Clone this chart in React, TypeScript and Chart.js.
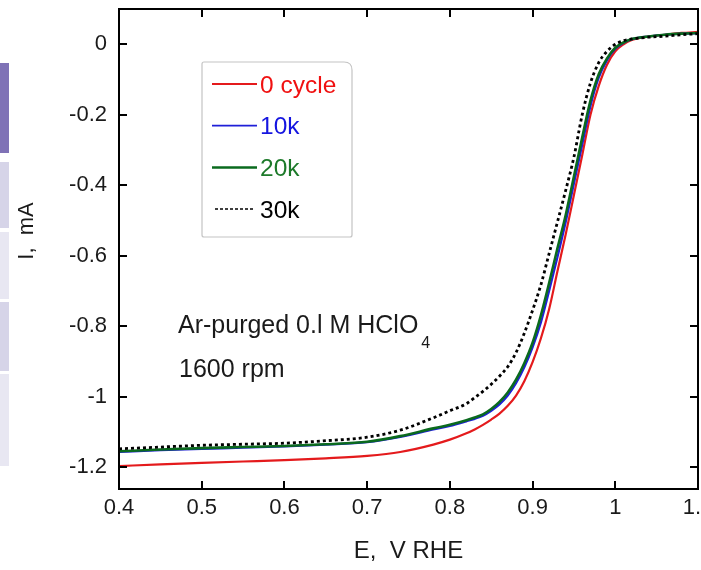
import { useEffect, useRef } from "react";
import { Chart, registerables } from "chart.js";

Chart.register(...registerables);

// ---- data ----
const E_V = [
  0.4, 0.45, 0.5, 0.55, 0.6, 0.65, 0.7, 0.74, 0.78, 0.8, 0.82, 0.83, 0.84, 0.85,
  0.86, 0.87, 0.88, 0.89, 0.9, 0.91, 0.92, 0.93, 0.94, 0.95, 0.96, 0.97, 0.98,
  0.99, 1.0, 1.01, 1.02, 1.04, 1.06, 1.08, 1.1,
];
const I_0CYCLE = [
  -1.197, -1.192, -1.188, -1.184, -1.18, -1.175, -1.168, -1.157, -1.136, -1.122,
  -1.104, -1.093, -1.08, -1.065, -1.048, -1.026, -0.997, -0.956, -0.902, -0.835,
  -0.752, -0.645, -0.54, -0.428, -0.315, -0.2, -0.118, -0.058, -0.02, 0.0, 0.012,
  0.022, 0.027, 0.032, 0.035,
];
const I_10K = [
  -1.157, -1.152, -1.148, -1.145, -1.141, -1.136, -1.129, -1.114, -1.093, -1.083,
  -1.07, -1.063, -1.054, -1.04, -1.022, -0.997, -0.962, -0.917, -0.86, -0.79,
  -0.7, -0.605, -0.505, -0.395, -0.285, -0.175, -0.095, -0.045, -0.013, 0.004,
  0.014, 0.022, 0.027, 0.03, 0.031,
];
const I_20K = [
  -1.155, -1.15, -1.146, -1.143, -1.14, -1.135, -1.128, -1.112, -1.09, -1.08,
  -1.067, -1.059, -1.05, -1.035, -1.015, -0.988, -0.952, -0.905, -0.847, -0.77,
  -0.678, -0.58, -0.485, -0.375, -0.265, -0.16, -0.085, -0.04, -0.01, 0.005,
  0.015, 0.022, 0.027, 0.03, 0.032,
];
const I_30K = [
  -1.148, -1.143, -1.138, -1.135, -1.132, -1.125, -1.115, -1.095, -1.06, -1.04,
  -1.02, -1.003, -0.985, -0.965, -0.942, -0.915, -0.875, -0.82, -0.755, -0.683,
  -0.594, -0.505, -0.415, -0.32, -0.2, -0.11, -0.052, -0.02, 0.0, 0.01, 0.015,
  0.02, 0.023, 0.027, 0.03,
];
const SERIES_NAMES = ["0 cycle", "10k", "20k", "30k"];
const SERIES_COLORS = ["#e41a1c", "#1f1fd8", "#0a6a1e", "#000000"];
const LEGEND_TEXT_COLORS = ["#f01010", "#1515e0", "#1d7a2a", "#000000"];
const DRAW_ORDER = [3, 2, 1, 0]; // higher = drawn first (underneath)

const X_TICKS = [0.4, 0.5, 0.6, 0.7, 0.8, 0.9, 1.0, 1.1];
const X_TICK_LABELS = ["0.4", "0.5", "0.6", "0.7", "0.8", "0.9", "1", "1.1"];
const Y_TICKS = [0, -0.2, -0.4, -0.6, -0.8, -1.0, -1.2];
const Y_TICK_LABELS = ["0", "-0.2", "-0.4", "-0.6", "-0.8", "-1", "-1.2"];
const X_MIN = 0.4;
const X_MAX = 1.1;
const Y_MIN = -1.262;
const Y_MAX = 0.1;

const X_TITLE = "E,  V RHE";
const Y_TITLE = "I,  mA";
const NOTE_LINE_1 = "Ar-purged 0.l M HClO";
const NOTE_SUB = "4";
const NOTE_LINE_2 = "1600 rpm";

const FONT = "'Liberation Sans', Arial, sans-serif";

const decorPlugin = {
  id: "decor",
  afterDatasetsDraw(chart: any) {
    const ctx = chart.ctx;
    const { left, right, top, bottom } = chart.chartArea;
    const xs = chart.scales.x;
    const ys = chart.scales.y;
    ctx.save();
    // frame
    ctx.strokeStyle = "#000";
    ctx.lineWidth = 2;
    ctx.strokeRect(left, top, right - left, bottom - top);
    // inward ticks on all four sides
    const tl = 8;
    ctx.beginPath();
    X_TICKS.forEach((v) => {
      const px = Math.round(xs.getPixelForValue(v));
      ctx.moveTo(px, bottom);
      ctx.lineTo(px, bottom - tl);
      ctx.moveTo(px, top);
      ctx.lineTo(px, top + tl);
    });
    Y_TICKS.forEach((v) => {
      const py = Math.round(ys.getPixelForValue(v));
      ctx.moveTo(left, py);
      ctx.lineTo(left + tl, py);
      ctx.moveTo(right, py);
      ctx.lineTo(right - tl, py);
    });
    ctx.stroke();

    // axis titles
    ctx.fillStyle = "#1a1a1a";
    ctx.font = `24px ${FONT}`;
    ctx.textAlign = "center";
    ctx.textBaseline = "middle";
    ctx.fillText(X_TITLE, (left + right) / 2, 551);
    ctx.save();
    ctx.translate(27, 231);
    ctx.rotate(-Math.PI / 2);
    ctx.font = `22px ${FONT}`;
    ctx.fillText(Y_TITLE, 0, 0);
    ctx.restore();

    // legend box
    const bx = 202, by = 62, bw = 150, bh = 175, r = 8;
    ctx.beginPath();
    ctx.moveTo(bx + 2, by);
    ctx.lineTo(bx + bw - r, by);
    ctx.quadraticCurveTo(bx + bw, by, bx + bw, by + r);
    ctx.lineTo(bx + bw, by + bh - 2);
    ctx.quadraticCurveTo(bx + bw, by + bh, bx + bw - 2, by + bh);
    ctx.lineTo(bx + 2, by + bh);
    ctx.quadraticCurveTo(bx, by + bh, bx, by + bh - 2);
    ctx.lineTo(bx, by + 2);
    ctx.quadraticCurveTo(bx, by, bx + 2, by);
    ctx.closePath();
    ctx.fillStyle = "#ffffff";
    ctx.fill();
    ctx.strokeStyle = "#c4c4c4";
    ctx.lineWidth = 1.2;
    ctx.stroke();

    ctx.font = `24.5px ${FONT}`;
    ctx.textAlign = "left";
    ctx.textBaseline = "middle";
    SERIES_NAMES.forEach((name, i) => {
      const y = 84 + i * 41.7;
      ctx.beginPath();
      ctx.strokeStyle = SERIES_COLORS[i];
      if (i === 3) {
        ctx.setLineDash([3, 2]);
        ctx.lineWidth = 1.5;
        ctx.moveTo(215, y);
        ctx.lineTo(253, y);
      } else {
        ctx.setLineDash([]);
        ctx.lineWidth = i === 2 ? 2.5 : 1.8;
        ctx.moveTo(212, y);
        ctx.lineTo(257, y);
      }
      ctx.stroke();
      ctx.setLineDash([]);
      ctx.fillStyle = LEGEND_TEXT_COLORS[i];
      ctx.fillText(name, 260, y + 2);
    });

    // annotation
    ctx.fillStyle = "#1a1a1a";
    ctx.font = `25px ${FONT}`;
    ctx.fillText(NOTE_LINE_1, 178, 326);
    const w = ctx.measureText(NOTE_LINE_1).width;
    ctx.font = `16px ${FONT}`;
    ctx.fillText(NOTE_SUB, 178 + w + 3, 344);
    ctx.font = `25px ${FONT}`;
    ctx.fillText(NOTE_LINE_2, 179, 370);
    ctx.restore();
  },
};

const DECOR_BOXES = [
  { top: 63, height: 90, color: "#7f72b6" },
  { top: 162, height: 66, color: "#d6d4e8" },
  { top: 232, height: 67, color: "#e8e7f2" },
  { top: 302, height: 69, color: "#d6d4e8" },
  { top: 374, height: 92, color: "#e8e7f2" },
];

export default function App() {
  const ref = useRef<HTMLCanvasElement | null>(null);

  useEffect(() => {
    if (!ref.current) return;
    const mk = (data: number[], i: number) => ({
      label: SERIES_NAMES[i],
      data: E_V.map((x, k) => ({ x, y: data[k] })),
      borderColor: SERIES_COLORS[i],
      backgroundColor: SERIES_COLORS[i],
      borderWidth: i === 3 ? 2.8 : i === 2 ? 2.6 : 2.2,
      borderDash: i === 3 ? [3, 3] : [],
      pointRadius: 0,
      order: DRAW_ORDER[i],
      cubicInterpolationMode: "monotone" as const,
      fill: false,
    });
    const chart = new Chart(ref.current, {
      type: "line",
      data: {
        datasets: [
          mk(I_0CYCLE, 0),
          mk(I_10K, 1),
          mk(I_20K, 2),
          mk(I_30K, 3),
        ],
      },
      options: {
        responsive: false,
        animation: false,
        layout: { padding: { top: 9, right: 22, left: 0, bottom: 0 } },
        plugins: { legend: { display: false }, tooltip: { enabled: false } },
        scales: {
          x: {
            type: "linear",
            min: X_MIN,
            max: X_MAX,
            grid: { display: false, drawTicks: false },
            border: { display: false },
            afterBuildTicks: (s: any) => {
              s.ticks = X_TICKS.map((v) => ({ value: v }));
            },
            afterFit: (s: any) => {
              s.height = 81;
              s.paddingLeft = 0;
              s.paddingRight = 0;
              s.paddingTop = 0;
              s.paddingBottom = 0;
            },
            ticks: {
              padding: 6,
              maxRotation: 0,
              autoSkip: false,
              color: "#1a1a1a",
              font: { family: FONT, size: 22 },
              callback: (v: any) => {
                const i = X_TICKS.findIndex((t) => Math.abs(t - v) < 1e-6);
                return i >= 0 ? X_TICK_LABELS[i] : "";
              },
            },
          },
          y: {
            type: "linear",
            min: Y_MIN,
            max: Y_MAX,
            grid: { display: false, drawTicks: false },
            border: { display: false },
            afterBuildTicks: (s: any) => {
              s.ticks = Y_TICKS.map((v) => ({ value: v }));
            },
            afterFit: (s: any) => {
              s.width = 119;
              s.paddingLeft = 0;
              s.paddingRight = 0;
              s.paddingTop = 0;
              s.paddingBottom = 0;
            },
            ticks: {
              padding: 12,
              autoSkip: false,
              color: "#1a1a1a",
              font: { family: FONT, size: 22 },
              callback: (v: any) => {
                const i = Y_TICKS.findIndex((t) => Math.abs(t - v) < 1e-6);
                return i >= 0 ? Y_TICK_LABELS[i] : "";
              },
            },
          },
        },
      },
      plugins: [decorPlugin],
    });
    return () => chart.destroy();
  }, []);

  return (
    <div
      style={{
        position: "fixed",
        left: 0,
        top: 0,
        width: 701,
        height: 570,
        overflow: "hidden",
        background: "#ffffff",
      }}
    >
      {DECOR_BOXES.map((b, i) => (
        <div
          key={i}
          style={{
            position: "absolute",
            left: 0,
            top: b.top,
            width: 9,
            height: b.height,
            background: b.color,
          }}
        />
      ))}
      <canvas
        ref={ref}
        width={720}
        height={570}
        style={{ position: "absolute", left: 0, top: 0, width: 720, height: 570 }}
      />
    </div>
  );
}
